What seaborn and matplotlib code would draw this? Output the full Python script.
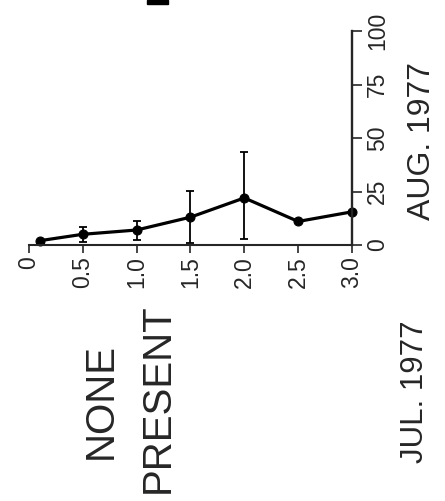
import matplotlib
matplotlib.use("Agg")
import matplotlib.pyplot as plt
from matplotlib.patches import Rectangle
import seaborn as sns
import pandas as pd

# Data (depth vs. value, Aug. 1977)
depth = [0.1, 0.5, 1.0, 1.5, 2.0, 2.5, 3.0]
value = [2.0, 5.0, 7.0, 13.0, 22.0, 11.0, 15.5]
err_depth = [0.5, 1.0, 1.5, 2.0]
err_value = [5.0, 7.0, 13.0, 22.0]
err_low = [3.5, 4.7, 12.0, 19.0]
err_high = [3.5, 4.2, 12.3, 21.5]

x_ticks = [0, 0.5, 1.0, 1.5, 2.0, 2.5, 3.0]
x_labels = ["0", "0.5", "1.0", "1.5", "2.0", "2.5", "3.0"]
y_ticks = [0, 25, 50, 75, 100]

sns.set_style("ticks")
plt.rcParams['font.family'] = ['Liberation Sans', 'DejaVu Sans']

fig = plt.figure(figsize=(4.45, 5.01), dpi=100)
ax = fig.add_axes([0.065, 0.511, 0.726, 0.427])

df = pd.DataFrame({"depth": depth, "value": value})
sns.lineplot(data=df, x="depth", y="value", ax=ax, color="black",
             marker="o", markersize=6.5, linewidth=2.3, markeredgecolor="black",
             clip_on=False)
ax.errorbar(err_depth, err_value, yerr=[err_low, err_high], fmt="none",
            ecolor="black", elinewidth=1.3, capsize=3.2, capthick=1.3,
            clip_on=False)

ax.set_xlim(0, 3)
ax.set_ylim(0, 100)
ax.set_xticks(x_ticks)
ax.set_xticklabels(x_labels)
ax.set_yticks(y_ticks)
ax.set_xlabel("")
ax.set_ylabel("")

ax.spines["top"].set_visible(False)
ax.spines["left"].set_visible(False)
ax.spines["right"].set_visible(True)
ax.spines["bottom"].set_linewidth(1.5)
ax.spines["right"].set_linewidth(1.7)
ax.yaxis.tick_right()
ax.tick_params(axis="x", direction="out", length=6, width=1.2,
               labelsize=16.5, labelrotation=90, pad=2)
ax.tick_params(axis="y", direction="out", length=7, width=1.2,
               labelsize=16.5, labelrotation=90, pad=3)
for lab in ax.get_yticklabels():
    lab.set_verticalalignment("center")
ax.set_facecolor("white")

# rotated annotations from the scan
fig.text(0.948, 0.719, "AUG. 1977", rotation=90, ha="center", va="center", fontsize=23)
fig.text(0.933, 0.218, "JUL. 1977", rotation=90, ha="center", va="center", fontsize=22.5)
fig.text(0.227, 0.200, "NONE", rotation=90, ha="center", va="center", fontsize=29)
fig.text(0.355, 0.206, "PRESENT", rotation=90, ha="center", va="center", fontsize=29)

# clipped fragment at the top edge of the scan
fig.patches.append(Rectangle((147 / 445, 1 - 4 / 501), 21 / 445, 4 / 501,
                             transform=fig.transFigure, color="black"))

fig.savefig("out.png", dpi=100, facecolor="white")
